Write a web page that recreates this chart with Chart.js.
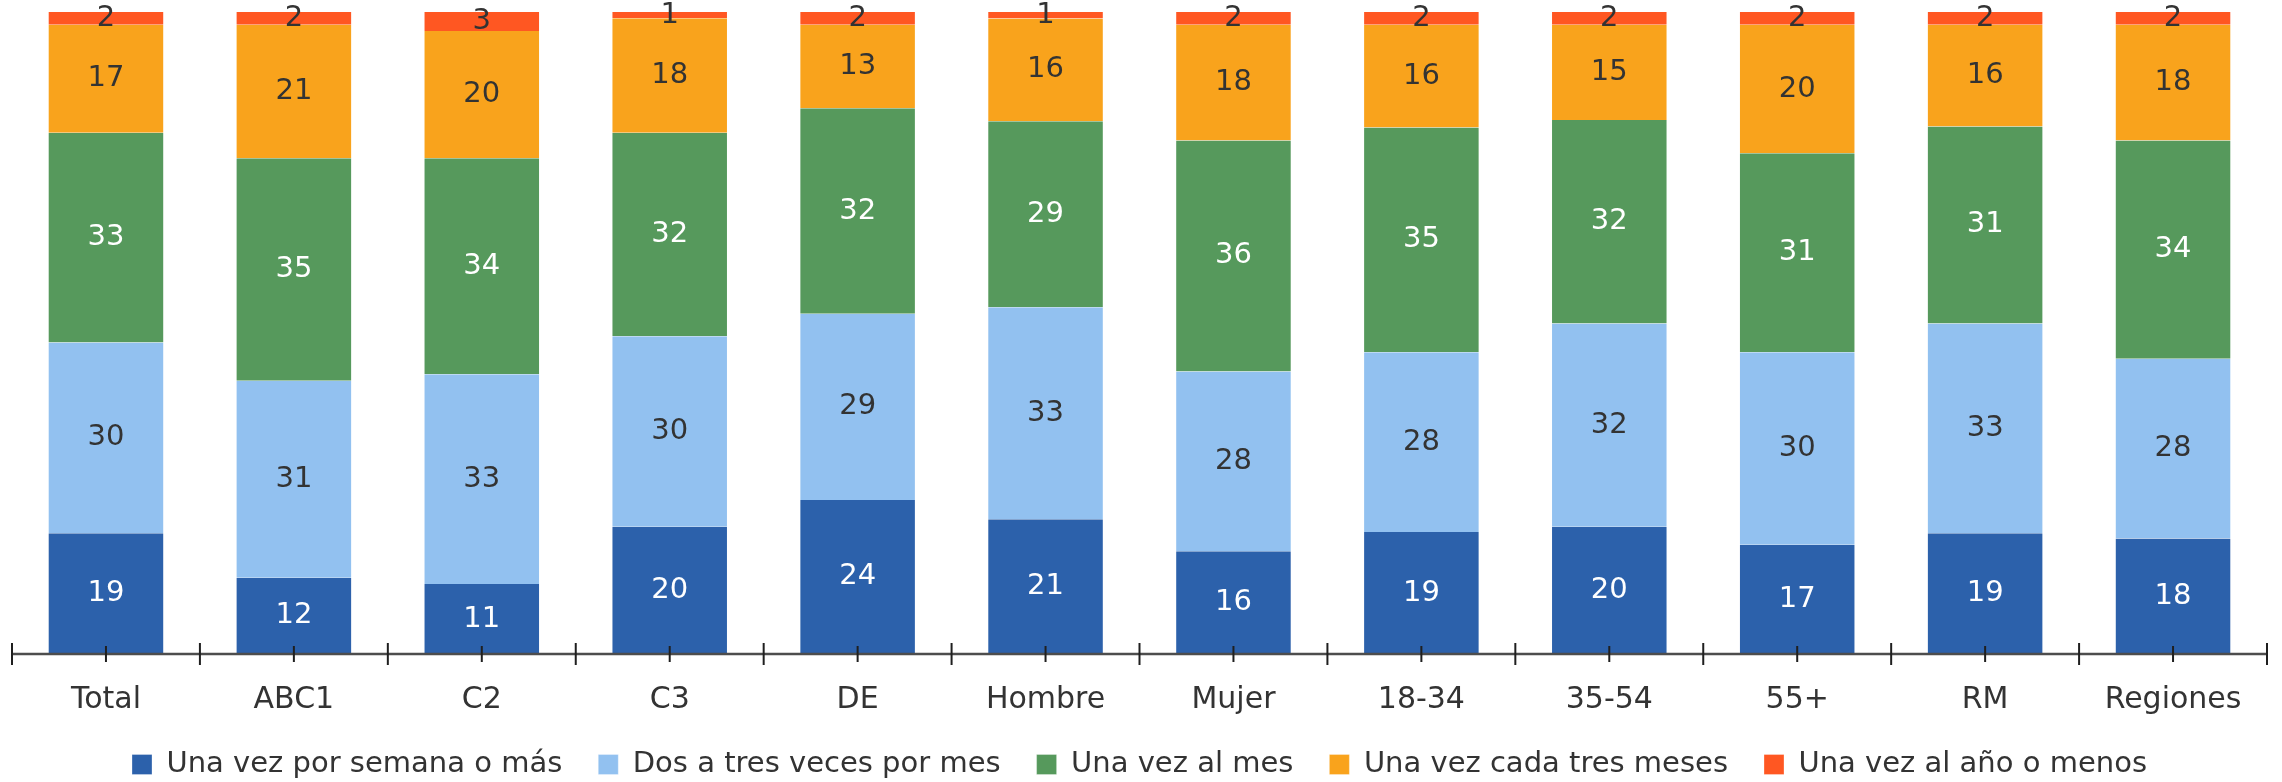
<!DOCTYPE html>
<html>
<head>
<meta charset="utf-8"/>
<style>
  html,body{margin:0;padding:0;background:#fff;}
  #wrap{width:2282px;height:782px;position:relative;}
</style>
</head>
<body>
<div id="wrap"><canvas id="c"></canvas></div>
<script src="https://cdn.jsdelivr.net/npm/chart.js@4.4.0/dist/chart.umd.min.js"></script>
<script>
const categorias = ["Total","ABC1","C2","C3","DE","Hombre","Mujer","18-34","35-54","55+","RM","Regiones"];
const semanal    = [19,12,11,20,24,21,16,19,20,17,19,18];
const dosTres    = [30,31,33,30,29,33,28,28,32,30,33,28];
const mensual    = [33,35,34,32,32,29,36,35,32,31,31,34];
const trimestral = [17,21,20,18,13,16,18,16,15,20,16,18];
const anual      = [2,2,3,1,2,1,2,2,2,2,2,2];

const series = [
  ["Una vez por semana o más", semanal,    "#2C61AB", "#ffffff"],
  ["Dos a tres veces por mes", dosTres,    "#92C1F0", "#333333"],
  ["Una vez al mes",           mensual,    "#56995C", "#ffffff"],
  ["Una vez cada tres meses",  trimestral, "#F9A31C", "#333333"],
  ["Una vez al año o menos",   anual,      "#FF5722", "#333333"]
];

const FUENTE = '"DejaVu Sans", sans-serif';
Chart.defaults.font.family = FUENTE;

// barras al 100%: cada valor sobre el total de su categoría
const totales = categorias.map((_, i) => series.reduce((a, s) => a + s[1][i], 0));

const datasets = series.map(([label, vals, color, txt]) => ({
  label,
  data: vals.map((v, i) => v / totales[i] * 100),
  valores: vals,
  colorTexto: txt,
  backgroundColor: color,
  borderColor: "rgba(255,255,255,0.6)",
  borderWidth: {left:1, right:1, top:0, bottom:0},
  borderSkipped: false,
  barPercentage: 0.62,
  categoryPercentage: 1
}));

const rotulos = {
  id: "rotulos",
  afterDatasetsDraw(chart) {
    const ctx = chart.ctx;
    ctx.save();
    ctx.font = "29px " + FUENTE;
    ctx.textAlign = "center";
    ctx.textBaseline = "middle";
    chart.data.datasets.forEach((ds, i) => {
      chart.getDatasetMeta(i).data.forEach((bar, j) => {
        ctx.fillStyle = ds.colorTexto;
        ctx.fillText(ds.valores[j], bar.x, (bar.y + bar.base) / 2);
      });
    });
    ctx.restore();
  }
};

// línea del eje con marcas en el centro y entre categorías
const eje = {
  id: "eje",
  afterDatasetsDraw(chart) {
    const { ctx, chartArea: { left, right, bottom }, scales: { x } } = chart;
    const paso = x.getPixelForValue(1) - x.getPixelForValue(0);
    const linea = (x1, y1, x2, y2) => { ctx.beginPath(); ctx.moveTo(x1, y1); ctx.lineTo(x2, y2); ctx.stroke(); };
    ctx.save();
    ctx.strokeStyle = "#4d4d4d"; ctx.lineWidth = 2.5;
    linea(left, bottom, right, bottom);
    ctx.strokeStyle = "#1f1f1f"; ctx.lineWidth = 2;
    categorias.forEach((c, i) => {
      const cx = x.getPixelForValue(i);
      linea(cx, bottom - 8, cx, bottom + 8);
      linea(cx - paso / 2, bottom - 11, cx - paso / 2, bottom + 11);
    });
    linea(right, bottom - 11, right, bottom + 11);
    ctx.restore();
  }
};

// la leyenda reserva más alto del necesario: se recorta y se sube su borde superior
const RECORTE = 32;
const ajusteLeyenda = {
  id: "ajusteLeyenda",
  beforeInit(chart) {
    const fit = chart.legend.fit;
    chart.legend.fit = function () { fit.call(this); this.height -= RECORTE; };
  },
  afterLayout(chart) {
    chart.legend.top -= RECORTE;
    chart.legend.height += RECORTE;
  }
};

new Chart(document.getElementById("c"), {
  type: "bar",
  data: { labels: categorias, datasets },
  options: {
    responsive: true, maintainAspectRatio: false, animation: false,
    devicePixelRatio: 1,
    layout: { padding: { left: 12, right: 15, top: 12, bottom: -7 } },
    plugins: {
      tooltip: { enabled: false },
      legend: {
        position: "bottom",
        labels: { boxWidth: 20, boxHeight: 20, padding: 36, color: "#333", font: { size: 29 } }
      }
    },
    scales: {
      x: {
        stacked: true,
        grid: { display: false, drawTicks: false },
        border: { display: false },
        ticks: { padding: 28, color: "#333", font: { size: 30 } }
      },
      y: { stacked: true, display: false, min: 0, max: 100 }
    }
  },
  plugins: [ajusteLeyenda, eje, rotulos]
});
</script>
</body>
</html>
